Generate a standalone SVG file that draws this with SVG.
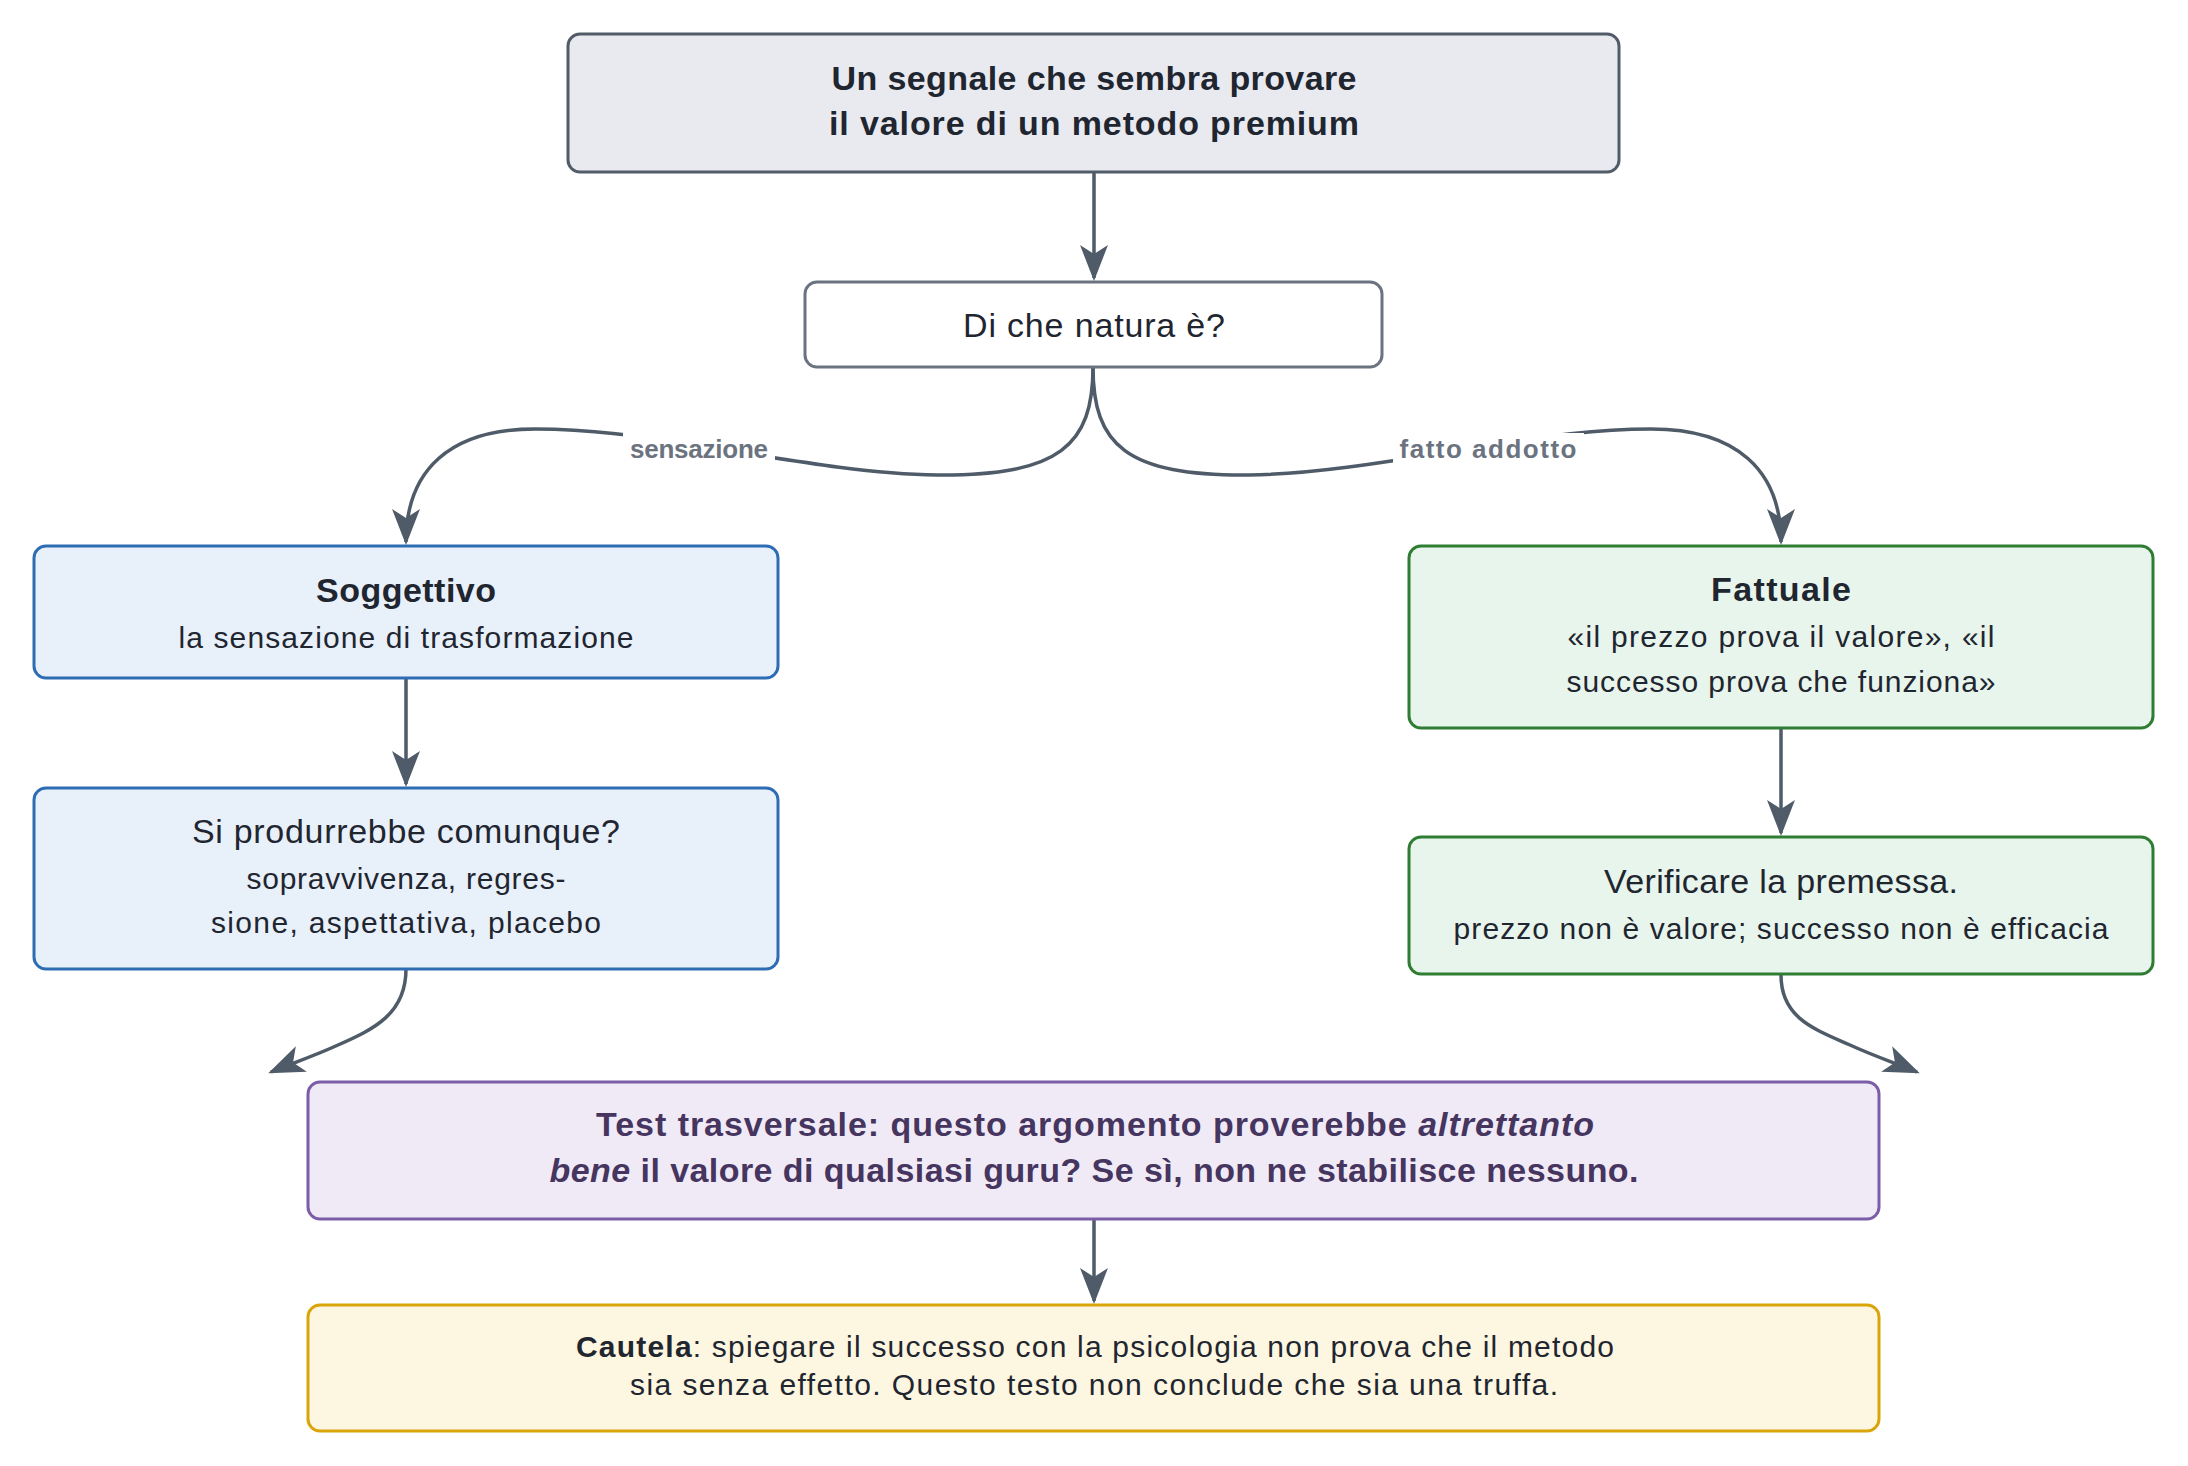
<svg xmlns="http://www.w3.org/2000/svg" width="2188" height="1466" viewBox="0 0 2188 1466">
<style>
.box{stroke-width:3}
.t{font-family:"Liberation Sans",Arial,sans-serif;fill:#1f2630;text-anchor:middle}
.b{font-weight:bold}
.m{font-size:34px}
.s{font-size:30px}
.c{fill:none;stroke:#4f5b68;stroke-width:3.5;marker-end:url(#ah)}
.lbl{font-family:"Liberation Sans",Arial,sans-serif;font-weight:bold;font-size:26px;fill:#6b7380;text-anchor:middle}
</style>
<defs>
<marker id="ah" markerUnits="userSpaceOnUse" markerWidth="40" markerHeight="30" viewBox="0 0 40 30" refX="34" refY="15" orient="auto">
<path d="M37,15 L1,1 L10,15 L1,29 Z" fill="#4f5b68"/>
</marker>
</defs>
<rect width="2188" height="1466" fill="#fff"/>

<g id="connectors">
<path class="c" d="M1094,172 L1094,278"/>
<path class="c" d="M1093,367 C1093,445 1060,476 937,475 C870,474 800,462 700,446 C640,436 590,429 535,429 C450,429 406,470 406,542"/>
<path class="c" d="M1093,367 C1093,445 1126,476 1249,475 C1316,474 1386,462 1486,446 C1546,436 1596,429 1651,429 C1736,429 1781,470 1781,542"/>
<path class="c" d="M406,678 L406,784"/>
<path class="c" d="M1781,728 L1781,833"/>
<path class="c" d="M406,969 C406,1014 374,1029 338,1045 C312,1057 292,1063 271,1072"/>
<path class="c" d="M1781,975 C1781,1018 1814,1029 1850,1045 C1876,1057 1896,1063 1917,1072"/>
<path class="c" d="M1094,1219 L1094,1301"/>
<rect x="623" y="433" width="152" height="36" fill="#fff"/>
<text class="lbl" x="699" y="458" textLength="138" lengthAdjust="spacing">sensazione</text>
<rect x="1393" y="433" width="191" height="36" fill="#fff"/>
<text class="lbl" x="1488" y="458" textLength="177" lengthAdjust="spacing">fatto addotto</text>
</g>

<g id="n-top">
<rect class="box" x="568" y="34" width="1051" height="138" rx="12" fill="#e8eaf0" stroke="#525c69"/>
<text class="t b m" x="1094" y="90" textLength="525" lengthAdjust="spacing">Un segnale che sembra provare</text>
<text class="t b m" x="1094" y="135" textLength="530" lengthAdjust="spacing">il valore di un metodo premium</text>
</g>

<g id="n-natura">
<rect class="box" x="805" y="282" width="577" height="85" rx="12" fill="#ffffff" stroke="#6b7380"/>
<text class="t m" x="1094" y="337" textLength="262" lengthAdjust="spacing">Di che natura è?</text>
</g>

<g id="n-soggettivo">
<rect class="box" x="34" y="546" width="744" height="132" rx="12" fill="#e8f0fa" stroke="#2e6db4"/>
<text class="t b m" x="406" y="602" textLength="180" lengthAdjust="spacing">Soggettivo</text>
<text class="t s" x="406" y="648" textLength="455" lengthAdjust="spacing">la sensazione di trasformazione</text>
</g>

<g id="n-comunque">
<rect class="box" x="34" y="788" width="744" height="181" rx="12" fill="#e8f0fa" stroke="#2e6db4"/>
<text class="t m" x="406" y="843" textLength="428" lengthAdjust="spacing">Si produrrebbe comunque?</text>
<text class="t s" x="406" y="889" textLength="319" lengthAdjust="spacing">sopravvivenza, regres-</text>
<text class="t s" x="406" y="933" textLength="390" lengthAdjust="spacing">sione, aspettativa, placebo</text>
</g>

<g id="n-fattuale">
<rect class="box" x="1409" y="546" width="744" height="182" rx="12" fill="#e8f5ec" stroke="#2e7d32"/>
<text class="t b m" x="1781" y="601" textLength="140" lengthAdjust="spacing">Fattuale</text>
<text class="t s" x="1781" y="647" textLength="427" lengthAdjust="spacing">«il prezzo prova il valore», «il</text>
<text class="t s" x="1781" y="692" textLength="429" lengthAdjust="spacing">successo prova che funziona»</text>
</g>

<g id="n-verificare">
<rect class="box" x="1409" y="837" width="744" height="137" rx="12" fill="#e8f5ec" stroke="#2e7d32"/>
<text class="t m" x="1781" y="893" textLength="354" lengthAdjust="spacing">Verificare la premessa.</text>
<text class="t s" x="1781" y="939" textLength="655" lengthAdjust="spacing">prezzo non è valore; successo non è efficacia</text>
</g>

<g id="n-test">
<rect class="box" x="308" y="1082" width="1571" height="137" rx="12" fill="#f0eaf7" stroke="#7b5ea7"/>
<text class="t b m" x="1095" y="1136" style="fill:#46355f" textLength="998" lengthAdjust="spacing">Test trasversale: questo argomento proverebbe <tspan font-style="italic">altrettanto</tspan></text>
<text class="t b m" x="1094" y="1182" style="fill:#46355f" textLength="1089" lengthAdjust="spacing"><tspan font-style="italic">bene</tspan> il valore di qualsiasi guru? Se sì, non ne stabilisce nessuno.</text>
</g>

<g id="n-cautela">
<rect class="box" x="308" y="1305" width="1571" height="126" rx="12" fill="#fdf6e0" stroke="#daa50a"/>
<text class="t s" x="1095" y="1357" textLength="1038" lengthAdjust="spacing"><tspan font-weight="bold">Cautela</tspan>: spiegare il successo con la psicologia non prova che il metodo</text>
<text class="t s" x="1094" y="1395" textLength="928" lengthAdjust="spacing">sia senza effetto. Questo testo non conclude che sia una truffa.</text>
</g>
</svg>
